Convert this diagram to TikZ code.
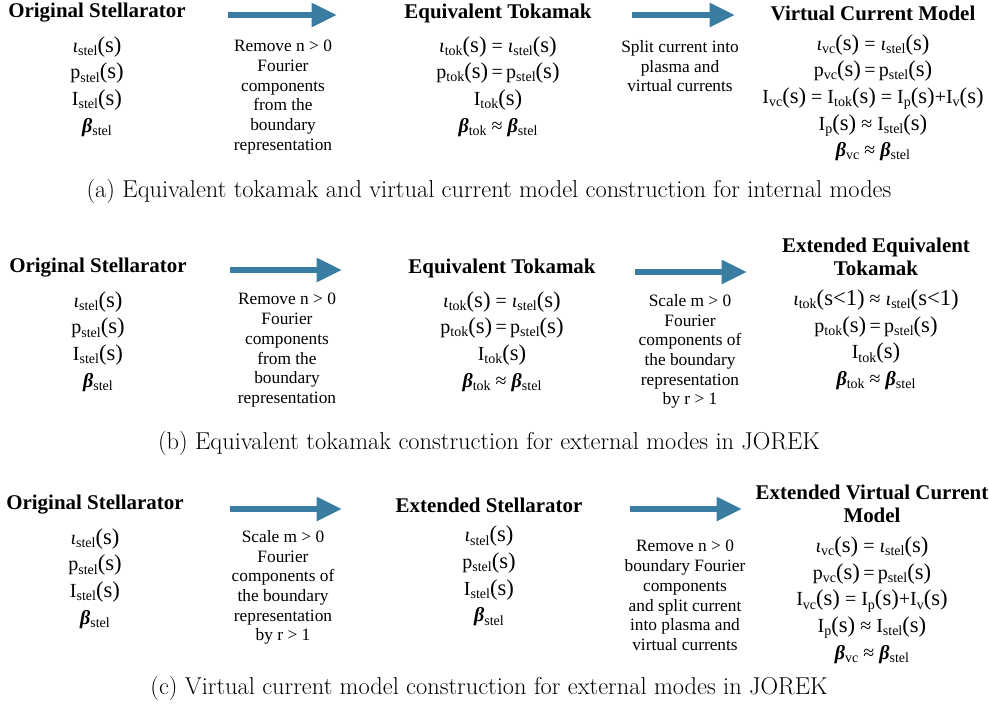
\documentclass[tikz,border=0pt]{standalone}
\usepackage{fontspec}
\usetikzlibrary{arrows.meta, positioning}
\newfontfamily\tnr{Liberation Serif}
\definecolor{arrowblue}{RGB}{58,125,163}
\tikzstyle{title} = [font=\tnr\fontsize{15.7}{17.5}\selectfont\bfseries, align=center, inner sep=0pt]
\tikzstyle{desc} = [font=\tnr\fontsize{13}{14.8}\selectfont, align=center, inner sep=0pt, anchor=north]
\tikzstyle{quant} = [font=\tnr\fontsize{15}{20}\selectfont, align=center, inner sep=0pt]
\tikzstyle{caption} = [font=\fontsize{18.3}{20}\selectfont, inner sep=0pt]
\tikzstyle{flow} = [line width=4.5pt, draw=arrowblue, -{Triangle[length=19pt, width=17pt, fill=arrowblue]}]
\newcommand{\lo}[1]{\raisebox{-0.35ex}{\fontsize{10.5}{10.5}\selectfont #1}}
\newcommand{\fn}[1]{{\fontsize{17}{17}\selectfont(#1)}}
\newcommand{\io}{\textit{ι}}
\newcommand{\bt}{\textbf{\textit{β}}}

\begin{document}
\begin{tikzpicture}[x=0.75pt, y=-0.75pt]
    \useasboundingbox (0,0) rectangle (989,704);
    % (a) internal modes
    \node [title] (origA) at (97,13) {Original Stellarator};
    \node [quant, below=10pt of origA] (origAq) {\io\lo{stel}\fn{s}\\p\lo{stel}\fn{s}\\I\lo{stel}\fn{s}\\\bt\lo{stel}};
    \node [desc] (removeA) at (283,40) {Remove n > 0\\Fourier\\components\\from the\\boundary\\representation};
    \node [title] (eqtokA) at (498,13) {Equivalent Tokamak};
    \node [quant, below=10pt of eqtokA] (eqtokAq) {\io\lo{tok}\fn{s} = \io\lo{stel}\fn{s}\\p\lo{tok}\fn{s}\,=\,p\lo{stel}\fn{s}\\I\lo{tok}\fn{s}\\\bt\lo{tok} ≈ \bt\lo{stel}};
    \node [desc] (splitA) at (680,40) {Split current into\\plasma and\\virtual currents};
    \node [title] (vcA) at (873,13) {Virtual Current Model};
    \node [quant, below=10pt of vcA] (vcAq) {\io\lo{vc}\fn{s} = \io\lo{stel}\fn{s}\\p\lo{vc}\fn{s}\,=\,p\lo{stel}\fn{s}\\I\lo{vc}\fn{s} = I\lo{tok}\fn{s} = I\lo{p}\fn{s}+I\lo{v}\fn{s}\\I\lo{p}\fn{s} ≈ I\lo{stel}\fn{s}\\\bt\lo{vc} ≈ \bt\lo{stel}};
    \coordinate (a1) at (228,15);
    \coordinate (a2) at (337,15);
    \coordinate (a3) at (632,15);
    \coordinate (a4) at (735,15);
    \draw [flow] (a1) -- (a2);
    \draw [flow] (a3) -- (a4);
    \node [caption] (capA) at (489,191) {(a) Equivalent tokamak and virtual current model construction for internal modes};

    % (b) external modes, equivalent tokamak
    \node [title] (origB) at (98,268) {Original Stellarator};
    \node [quant, below=10pt of origB] (origBq) {\io\lo{stel}\fn{s}\\p\lo{stel}\fn{s}\\I\lo{stel}\fn{s}\\\bt\lo{stel}};
    \node [desc] (removeB) at (287,293) {Remove n > 0\\Fourier\\components\\from the\\boundary\\representation};
    \node [title] (eqtokB) at (502,268) {Equivalent Tokamak};
    \node [quant, below=10pt of eqtokB] (eqtokBq) {\io\lo{tok}\fn{s} = \io\lo{stel}\fn{s}\\p\lo{tok}\fn{s}\,=\,p\lo{stel}\fn{s}\\I\lo{tok}\fn{s}\\\bt\lo{tok} ≈ \bt\lo{stel}};
    \node [desc] (scaleB) at (690,294) {Scale m > 0\\Fourier\\components of\\the boundary\\representation\\by r > 1};
    \node [title] (exttokB) at (876,257) {Extended Equivalent\\Tokamak};
    \node [quant, below=10pt of exttokB] (exttokBq) {\io\lo{tok}\fn{s<1} ≈ \io\lo{stel}\fn{s<1}\\p\lo{tok}\fn{s}\,=\,p\lo{stel}\fn{s}\\I\lo{tok}\fn{s}\\\bt\lo{tok} ≈ \bt\lo{stel}};
    \coordinate (b1) at (230,270);
    \coordinate (b2) at (342,270);
    \coordinate (b3) at (635,272);
    \coordinate (b4) at (747,272);
    \draw [flow] (b1) -- (b2);
    \draw [flow] (b3) -- (b4);
    \node [caption] (capB) at (489,443) {(b) Equivalent tokamak construction for external modes in JOREK};

    % (c) external modes, virtual current model
    \node [title] (origC) at (95,505) {Original Stellarator};
    \node [quant, below=10pt of origC] (origCq) {\io\lo{stel}\fn{s}\\p\lo{stel}\fn{s}\\I\lo{stel}\fn{s}\\\bt\lo{stel}};
    \node [desc] (scaleC) at (283,530) {Scale m > 0\\Fourier\\components of\\the boundary\\representation\\by r > 1};
    \node [title] (extstelC) at (489,505) {Extended Stellarator};
    \node [quant, below=10pt of extstelC] (extstelCq) {\io\lo{stel}\fn{s}\\p\lo{stel}\fn{s}\\I\lo{stel}\fn{s}\\\bt\lo{stel}};
    \node [desc] (removeC) at (685,540) {Remove n > 0\\boundary Fourier\\components\\and split current\\into plasma and\\virtual currents};
    \node [title] (extvcC) at (872,504) {Extended Virtual Current\\Model};
    \node [quant, below=10pt of extvcC] (extvcCq) {\io\lo{vc}\fn{s} = \io\lo{stel}\fn{s}\\p\lo{vc}\fn{s}\,=\,p\lo{stel}\fn{s}\\I\lo{vc}\fn{s} = I\lo{p}\fn{s}+I\lo{v}\fn{s}\\I\lo{p}\fn{s} ≈ I\lo{stel}\fn{s}\\\bt\lo{vc} ≈ \bt\lo{stel}};
    \coordinate (c1) at (230,509);
    \coordinate (c2) at (342,509);
    \coordinate (c3) at (630,509);
    \coordinate (c4) at (742,509);
    \draw [flow] (c1) -- (c2);
    \draw [flow] (c3) -- (c4);
    \node [caption] (capC) at (489,688) {(c) Virtual current model construction for external modes in JOREK};
\end{tikzpicture}
\end{document}
